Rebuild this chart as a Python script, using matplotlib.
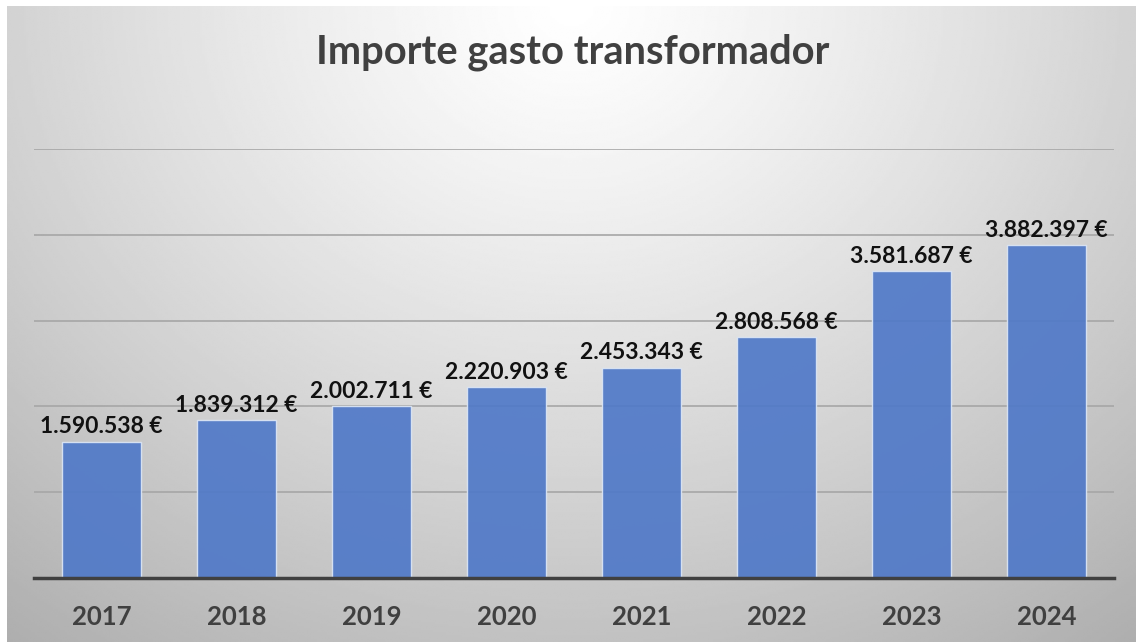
import numpy as np
import matplotlib
matplotlib.use('Agg')
import matplotlib.pyplot as plt

# Data
years = ['2017', '2018', '2019', '2020', '2021', '2022', '2023', '2024']
importe = [1590538, 1839312, 2002711, 2220903, 2453343, 2808568, 3581687, 3882397]

plt.rcParams['font.family'] = ['Lato', 'DejaVu Sans']

W, H = 1136, 642
fig = plt.figure(figsize=(W / 100, H / 100), dpi=100)
fig.patch.set_facecolor('white')

# Background: radial grey gradient, light at top centre
bg = fig.add_axes([7 / W, 0, 1 - 7 / W, 1 - 6 / H])
bg.set_axis_off()
yy, xx = np.mgrid[0:1:300j, 0:1:500j]
d = np.sqrt(((xx - 0.5) / 0.72) ** 2 + (yy / 1.1) ** 2)
shade = 1.0 - 0.27 * np.clip(d, 0, 1.2) ** 1.2
bg.imshow(shade, cmap='gray', vmin=0, vmax=1, aspect='auto',
          extent=[0, 1, 1, 0], interpolation='bilinear')
bg.set_xlim(0, 1)
bg.set_ylim(1, 0)

# Main chart
ax = fig.add_axes([34 / W, 1 - 578 / H, 1080 / W, (578 - 149) / H])
ax.set_facecolor('none')
x = np.arange(len(years))
bars = ax.bar(x, importe, width=0.59, color='#5079c8', alpha=0.92,
              edgecolor='#dce6f5', linewidth=1.0, zorder=3)

ax.set_xlim(-0.5, len(years) - 0.5)
ax.set_ylim(0, 5000000)
ax.set_yticks([1000000, 2000000, 3000000, 4000000, 5000000])
ax.yaxis.grid(True, color='#a6a6a6', linewidth=1.2, zorder=1)
ax.tick_params(axis='y', left=False, labelleft=False)
ax.tick_params(axis='x', bottom=False, pad=16)
ax.set_xticks(x)
ax.set_xticklabels(years, fontsize=18.5, fontweight='bold', color='#404040')

for s in ['top', 'right', 'left']:
    ax.spines[s].set_visible(False)
ax.spines['bottom'].set_color('#404040')
ax.spines['bottom'].set_linewidth(2.5)
ax.spines['bottom'].set_zorder(4)

for xi, v in zip(x, importe):
    lab = f'{v:,}'.replace(',', '.') + ' €'
    ax.annotate(lab, (xi, v), xytext=(0, 3), textcoords='offset points',
                ha='center', va='bottom', fontsize=16.5, fontweight='bold',
                color='#111111', zorder=5)

fig.text(573 / W, 1 - 52 / H, 'Importe gasto transformador', ha='center',
         va='center', fontsize=28.7, fontweight='bold', color='#404040')

fig.savefig('out.png', dpi=100)
